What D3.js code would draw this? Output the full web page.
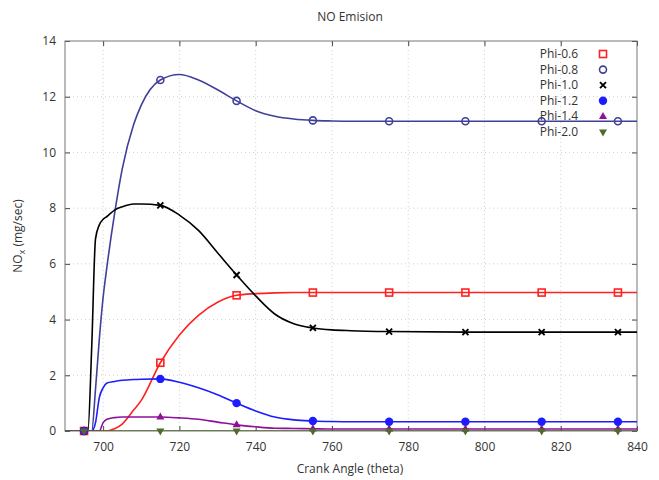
<!DOCTYPE html>
<html>
<head>
<meta charset="utf-8">
<script src="https://cdn.jsdelivr.net/npm/d3@7"></script>
<style>
  body { margin: 0; background: #fff; }
  text { font-family: "Open Sans", "DejaVu Sans", sans-serif; fill: #333; }
</style>
</head>
<body>
<svg id="chart"></svg>
<script>
// crank angle samples
var angles = [690, 693, 695, 696, 697, 698, 699, 700, 701, 703, 705, 708, 710, 715, 720, 725, 730, 735, 740, 745, 750, 755, 760, 765, 775, 795, 815, 835, 840];
var markerAngles = [695, 715, 735, 755, 775, 795, 815, 835];

var phi06 = [0, 0, 0, 0, 0, 0, 0, 0, 0, 0.08, 0.25, 0.75, 1.1, 2.45, 3.45, 4.15, 4.62, 4.87, 4.93, 4.96, 4.97, 4.97, 4.97, 4.97, 4.97, 4.97, 4.97, 4.97, 4.97];
var phi08 = [0, 0, 0, 0, 0, 1.5, 3.3, 4.8, 5.9, 7.8, 9.4, 11.0, 11.7, 12.6, 12.8, 12.6, 12.25, 11.85, 11.5, 11.3, 11.2, 11.15, 11.13, 11.12, 11.12, 11.12, 11.12, 11.12, 11.12];
var phi10 = [0, 0, 0, 0, 3.0, 6.9, 7.4, 7.6, 7.7, 7.93, 8.05, 8.15, 8.15, 8.1, 7.75, 7.2, 6.4, 5.6, 4.85, 4.2, 3.85, 3.7, 3.63, 3.6, 3.57, 3.55, 3.55, 3.55, 3.55];
var phi12 = [0, 0, 0, 0, 0, 0.3, 1.2, 1.55, 1.72, 1.78, 1.82, 1.85, 1.86, 1.87, 1.75, 1.55, 1.3, 1.0, 0.72, 0.5, 0.4, 0.36, 0.34, 0.33, 0.33, 0.33, 0.33, 0.33, 0.33];
var phi14 = [0, 0, 0, 0, 0, 0, 0, 0.3, 0.42, 0.48, 0.5, 0.5, 0.5, 0.5, 0.47, 0.42, 0.32, 0.22, 0.15, 0.1, 0.09, 0.08, 0.07, 0.07, 0.07, 0.07, 0.07, 0.07, 0.07];
var phi20 = [0, 0, 0, 0, 0, 0, 0, 0, 0, 0, 0, 0, 0, 0, 0, 0, 0, 0, 0, 0, 0, 0, 0, 0, 0, 0, 0, 0, 0];

var seriesNames = ["Phi-0.6", "Phi-0.8", "Phi-1.0", "Phi-1.2", "Phi-1.4", "Phi-2.0"];
var seriesValues = [phi06, phi08, phi10, phi12, phi14, phi20];

var xTicks = [700, 720, 740, 760, 780, 800, 820, 840];
var yTicks = [0, 2, 4, 6, 8, 10, 12, 14];

var screen = { width: 659, height: 480 };
var margins = { left: 65, top: 41, right: 22, bottom: 49 };

var colors = ["#ff2020", "#40409a", "#000000", "#1c1cff", "#8e0f9a", "#4e6b2c"];
var symbols = ["square", "circle", "cross", "dot", "triangle", "down"];

var xScale = d3.scaleLinear()
               .domain([690, 840])
               .range([margins.left, screen.width - margins.right]);

var yScale = d3.scaleLinear()
               .domain([0, 14])
               .range([screen.height - margins.bottom, margins.top]);

var svg = d3.select("#chart")
            .attr("width", screen.width)
            .attr("height", screen.height);

var x0 = xScale.range()[0], x1 = xScale.range()[1];
var y0 = yScale.range()[0], y1 = yScale.range()[1];

// grid
svg.append("g").selectAll("line")
   .data(xTicks.filter(function(t) { return t < 840; }))
   .enter().append("line")
   .attr("x1", function(d) { return xScale(d); })
   .attr("x2", function(d) { return xScale(d); })
   .attr("y1", y0).attr("y2", y1)
   .attr("stroke", "#d0d0d0").attr("stroke-dasharray", "1,3");

svg.append("g").selectAll("line")
   .data(yTicks.filter(function(t) { return t > 0 && t < 14; }))
   .enter().append("line")
   .attr("x1", x0).attr("x2", x1)
   .attr("y1", function(d) { return yScale(d); })
   .attr("y2", function(d) { return yScale(d); })
   .attr("stroke", "#d0d0d0").attr("stroke-dasharray", "1,3");

// axes with inward ticks (mirrored like gnuplot)
var xAxis = d3.axisBottom(xScale).tickValues(xTicks).tickSize(-5).tickPadding(11);
var yAxis = d3.axisLeft(yScale).tickValues(yTicks).tickSize(-5).tickPadding(9);

svg.append("g").attr("transform", "translate(0," + y0 + ")").call(xAxis)
   .call(function(g) { g.select(".domain").remove(); })
   .call(function(g) { g.selectAll("line").attr("stroke", "#444"); })
   .selectAll("text").style("font-size", "12px").attr("fill", "#333");

svg.append("g").attr("transform", "translate(" + x0 + ",0)").call(yAxis)
   .call(function(g) { g.select(".domain").remove(); })
   .call(function(g) { g.selectAll("line").attr("stroke", "#444"); })
   .selectAll("text").style("font-size", "12px").attr("fill", "#333");

svg.append("g").attr("transform", "translate(0," + y1 + ")")
   .call(d3.axisTop(xScale).tickValues(xTicks).tickSize(-5).tickFormat(""))
   .call(function(g) { g.select(".domain").remove(); })
   .selectAll("line").attr("stroke", "#444");

svg.append("g").attr("transform", "translate(" + x1 + ",0)")
   .call(d3.axisRight(yScale).tickValues(yTicks).tickSize(-5).tickFormat(""))
   .call(function(g) { g.select(".domain").remove(); })
   .selectAll("line").attr("stroke", "#444");

// border
svg.append("rect")
   .attr("x", x0).attr("y", y1)
   .attr("width", x1 - x0).attr("height", y0 - y1)
   .attr("fill", "none").attr("stroke", "#777").attr("stroke-width", 1);

var line = d3.line()
             .x(function(d) { return xScale(d.a); })
             .y(function(d) { return yScale(d.v); })
             .curve(d3.curveMonotoneX);

var drawMarker = function(g, kind, color, x, y) {
  if (kind == "square") {
    g.append("rect").attr("x", x - 3.5).attr("y", y - 3.5).attr("width", 7).attr("height", 7)
     .attr("fill", "none").attr("stroke", color).attr("stroke-width", 1.6);
  } else if (kind == "circle") {
    g.append("circle").attr("cx", x).attr("cy", y).attr("r", 3.5)
     .attr("fill", "none").attr("stroke", color).attr("stroke-width", 1.6);
  } else if (kind == "cross") {
    g.append("path").attr("d", "M" + (x - 3) + "," + (y - 3) + "L" + (x + 3) + "," + (y + 3) +
                              "M" + (x - 3) + "," + (y + 3) + "L" + (x + 3) + "," + (y - 3))
     .attr("stroke", color).attr("stroke-width", 1.9);
  } else if (kind == "dot") {
    g.append("circle").attr("cx", x).attr("cy", y).attr("r", 4.2).attr("fill", color);
  } else if (kind == "triangle") {
    g.append("path").attr("d", "M" + x + "," + (y - 4.5) + "L" + (x + 4) + "," + (y + 2.5) + "L" + (x - 4) + "," + (y + 2.5) + "Z")
     .attr("fill", color);
  } else {
    g.append("path").attr("d", "M" + x + "," + (y + 4.5) + "L" + (x + 4) + "," + (y - 2.5) + "L" + (x - 4) + "," + (y - 2.5) + "Z")
     .attr("fill", color);
  }
};

var clip = svg.append("clipPath").attr("id", "plotClip")
              .append("rect").attr("x", x0).attr("y", y1 - 6)
              .attr("width", x1 - x0).attr("height", y0 - y1 + 6);

seriesValues.forEach(function(vals, i) {
  var pts = angles.map(function(a, j) { return { a: a, v: vals[j] }; });
  var g = svg.append("g");
  g.append("path")
   .datum(pts)
   .attr("d", line)
   .attr("fill", "none")
   .attr("stroke", colors[i])
   .attr("stroke-width", 1.6)
   .attr("clip-path", "url(#plotClip)");
  pts.filter(function(p) { return markerAngles.indexOf(p.a) >= 0; })
     .forEach(function(p) { drawMarker(g, symbols[i], colors[i], xScale(p.a), yScale(p.v)); });
});

// legend
var legend = svg.append("g").attr("transform", "translate(0,54)");
seriesNames.forEach(function(name, i) {
  legend.append("text")
        .attr("x", 578).attr("y", i * 15.6 + 4)
        .attr("text-anchor", "end")
        .style("font-size", "12px")
        .text(name);
  drawMarker(legend, symbols[i], colors[i], 603, i * 15.6);
});

// titles
svg.append("text")
   .attr("x", 350).attr("y", 21)
   .attr("text-anchor", "middle")
   .style("font-size", "12px")
   .text("NO Emision");

svg.append("text")
   .attr("x", 350).attr("y", 473)
   .attr("text-anchor", "middle")
   .style("font-size", "12px")
   .text("Crank Angle (theta)");

var ylab = svg.append("text")
   .attr("transform", "translate(22,236) rotate(-90)")
   .attr("text-anchor", "middle")
   .style("font-size", "12px");
ylab.append("tspan").text("NO");
ylab.append("tspan").attr("dy", 3).style("font-size", "9px").text("x");
ylab.append("tspan").attr("dy", -3).text(" (mg/sec)");
</script>
</body>
</html>
